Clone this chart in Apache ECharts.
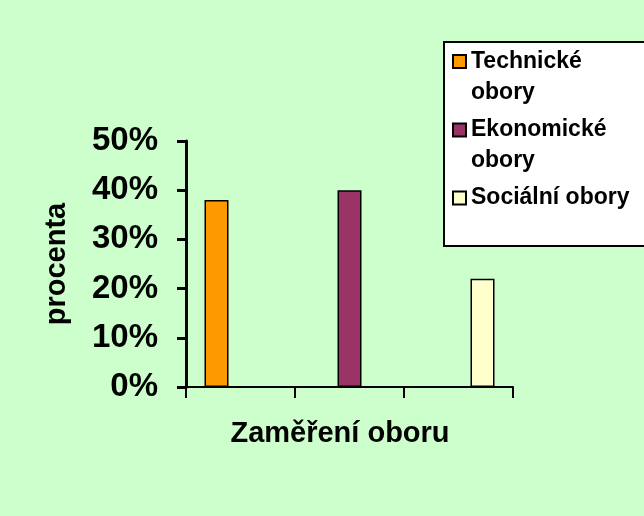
<!DOCTYPE html>
<html>
<head>
<meta charset="utf-8">
<script src="https://cdn.jsdelivr.net/npm/echarts@6/dist/echarts.min.js"></script>
<style>
  html, body { margin: 0; padding: 0; background: #ccffcc; }
  #chart { width: 644px; height: 516px; }
</style>
</head>
<body>
<div id="chart"></div>
<script>
// kategorie na ose x (popisky se nezobrazují)
const categories = ['Technické obory', 'Ekonomické obory', 'Sociální obory']
// názvy řad v legendě (zalomené jako v originále)
const seriesNames = ['Technické obory', 'Ekonomické obory', 'Sociální obory']
const legendLabels = ['Technické\nobory', 'Ekonomické\nobory', 'Sociální obory']
// podíly v procentech
const shares = [38, 40, 22]
const colors = ['#ff9900', '#993366', '#ffffcc']
// y osa
const yMin = 0
const yMax = 50
const yStep = 10

const font = 'Liberation Sans'

// každá řada má hodnotu jen ve "své" kategorii
const series = seriesNames.map((name, i) => ({
  name: name,
  type: 'bar',
  barWidth: 24,
  barGap: '0%',
  data: categories.map((c, j) => (j === i ? shares[i] : '-')),
  itemStyle: {
    color: colors[i],
    borderColor: '#000',
    borderWidth: 1.5
  }
}))

// tři legendy, aby šlo umístit každou položku zvlášť
// prázdný první řádek posune první řádek textu na úroveň ikonky
const legendTops = [15, 83.5, 182.5]
const legends = seriesNames.map((name, i) => ({
  data: [name],
  left: 452,
  top: legendTops[i],
  padding: 0,
  icon: 'rect',
  itemWidth: 13,
  itemHeight: 13,
  selectedMode: false,
  formatter: () => (legendLabels[i].indexOf('\n') >= 0 ? '\n' + legendLabels[i] : legendLabels[i]),
  textStyle: {
    fontFamily: font,
    fontWeight: 'bold',
    fontSize: 23,
    color: '#000',
    lineHeight: 31
  }
}))

const option = {
  backgroundColor: '#ccffcc',
  animation: false,
  graphic: [{
    type: 'rect',
    shape: { x: 444, y: 42, width: 260, height: 204 },
    style: { fill: '#fff', stroke: '#000', lineWidth: 2 }
  }],
  legend: legends,
  grid: {
    left: 186,
    right: 131,
    top: 141,
    bottom: 129
  },
  xAxis: {
    type: 'category',
    data: categories,
    name: 'Zaměření oboru',
    nameLocation: 'middle',
    nameGap: 32,
    nameTextStyle: {
      fontFamily: font,
      fontWeight: 'bold',
      fontSize: 29,
      color: '#000',
      padding: [0, 19, 0, 0]
    },
    axisLine: { lineStyle: { color: '#000', width: 2 } },
    axisTick: { show: true, interval: 0, length: 11, lineStyle: { color: '#000', width: 2 } },
    axisLabel: { show: false, interval: 0 }
  },
  yAxis: {
    type: 'value',
    min: yMin,
    max: yMax,
    interval: yStep,
    name: 'procenta',
    nameLocation: 'middle',
    nameRotate: 90,
    nameGap: 115,
    nameTextStyle: {
      fontFamily: font,
      fontWeight: 'bold',
      fontSize: 29,
      color: '#000'
    },
    splitLine: { show: false },
    axisLine: { show: true, lineStyle: { color: '#000', width: 3 } },
    axisTick: { show: true, length: 9, lineStyle: { color: '#000', width: 3 } },
    axisLabel: {
      margin: 28,
      formatter: '{value}%',
      fontFamily: font,
      fontWeight: 'bold',
      fontSize: 33,
      color: '#000'
    }
  },
  series: series
}

const chart = echarts.init(document.getElementById('chart'))
chart.setOption(option)
</script>
</body>
</html>
